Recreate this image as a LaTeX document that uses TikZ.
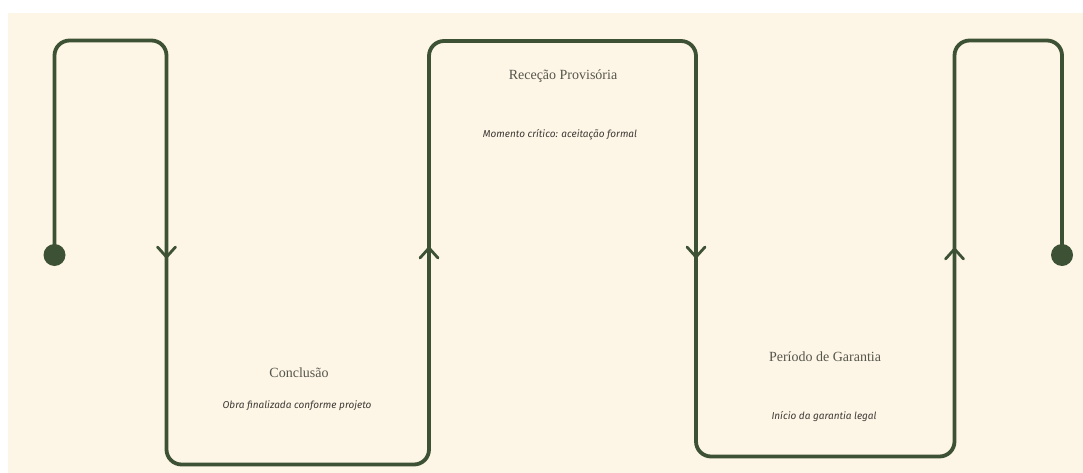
\documentclass[tikz,border=0pt]{standalone}
\usepackage{fontspec}
\setmainfont{Liberation Serif}
\newfontfamily\notefont{Fira Sans}
\usetikzlibrary{calc}
\definecolor{bgcream}{HTML}{FDF5E6}
\definecolor{linegreen}{HTML}{3D5234}
\definecolor{titlegray}{HTML}{55564B}
\definecolor{notegray}{HTML}{3E3A35}
\tikzset{
  flow/.style={draw=linegreen, line width=3.8pt, rounded corners=15pt, line cap=round, line join=round},
  chev/.style={draw=linegreen, line width=2.8pt, line cap=round, line join=miter},
  enddot/.style={circle, fill=linegreen, minimum size=22pt, inner sep=0pt},
  titletext/.style={font=\fontsize{14}{16}\selectfont, text=titlegray, inner sep=0pt},
  notetext/.style={font=\notefont\itshape\fontsize{10}{12}\selectfont, text=notegray, inner sep=0pt}
}
\begin{document}
\begin{tikzpicture}[x=1pt,y=-1pt]
\useasboundingbox (0,0) rectangle (1083,473);
\fill[white] (0,0) rectangle (1083,473);
\fill[bgcream] (8,13) rectangle (1083,473);

% path corners
\coordinate (s) at (54.5,255);
\coordinate (a1) at (54.5,40.5);
\coordinate (a2) at (166.5,40.5);
\coordinate (b1) at (166.5,464.5);
\coordinate (b2) at (429,464.5);
\coordinate (c1) at (429,41);
\coordinate (c2) at (696,41);
\coordinate (d1) at (696,456.5);
\coordinate (d2) at (954.5,456.5);
\coordinate (e1) at (954.5,40.5);
\coordinate (e2) at (1062,40.5);
\coordinate (t) at (1062,255);

\node[enddot] (start) at (s) {};
\node[enddot] (end) at (t) {};

\draw[flow] (start.center) -- (a1) -- (a2) -- (b1) -- (b2) -- (c1) -- (c2) -- (d1) -- (d2) -- (e1) -- (e2) -- (end.center);

% direction chevrons
\coordinate (ar1) at (166.5,257);
\coordinate (ar2) at (429,248);
\coordinate (ar3) at (696,257);
\coordinate (ar4) at (954.5,249);
\draw[chev] ($(ar1)+(-9,-10)$) -- (ar1) -- ($(ar1)+(9,-10)$);
\draw[chev] ($(ar3)+(-9,-10)$) -- (ar3) -- ($(ar3)+(9,-10)$);
\draw[chev] ($(ar2)+(-9,10)$) -- (ar2) -- ($(ar2)+(9,10)$);
\draw[chev] ($(ar4)+(-9,10)$) -- (ar4) -- ($(ar4)+(9,10)$);

% labels
\node[titletext] (conc) at (299,373) {Conclusão};
\node[notetext] (concn) at (297,406) {Obra finalizada conforme projeto};
\node[titletext] (rec) at (563,76) {Receção Provisória};
\node[notetext] (recn) at (560,135) {Momento crítico: aceitação formal};
\node[titletext] (gar) at (825,357) {Período de Garantia};
\node[notetext] (garn) at (824,417) {Início da garantia legal};
\end{tikzpicture}
\end{document}
